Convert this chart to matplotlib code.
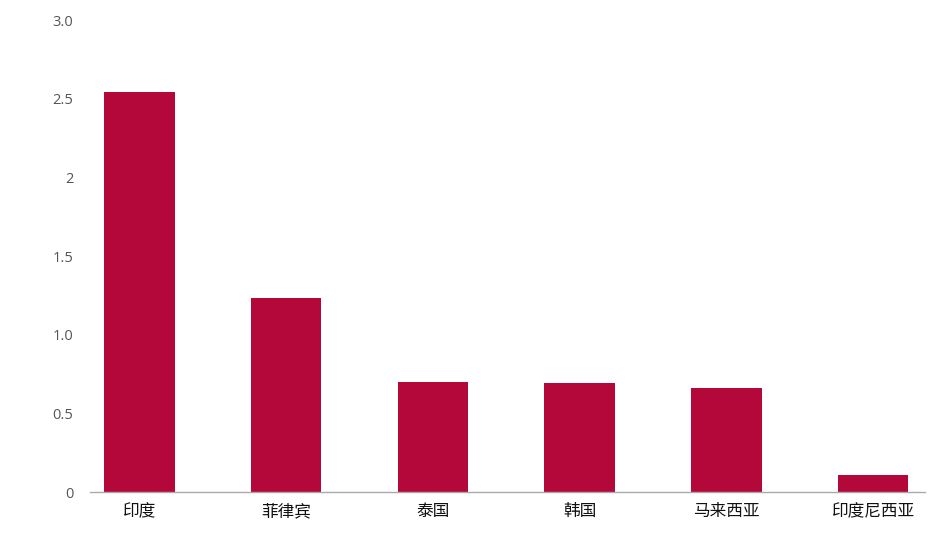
import matplotlib
matplotlib.use("Agg")
import matplotlib.pyplot as plt

countries = ["印度", "菲律宾", "泰国", "韩国", "马来西亚", "印度尼西亚"]
values = [2.54, 1.23, 0.70, 0.69, 0.66, 0.11]
y_ticks = [0, 0.5, 1.0, 1.5, 2.0, 2.5, 3.0]
y_tick_labels = ["0", "0.5", "1.0", "1.5", "2", "2.5", "3.0"]

plt.rcParams['font.family'] = ['Noto Sans CJK SC', 'DejaVu Sans']

fig = plt.figure(figsize=(9.45, 5.35), dpi=100)
ax = fig.add_axes([90 / 945, 43 / 535, 835 / 945, 472 / 535])

x = list(range(len(countries)))
ax.bar(x, values, width=0.48, color="#B5083A")

ax.set_xlim(-0.337, 5.354)
ax.set_ylim(0, 3.0)
ax.set_yticks(y_ticks)
ax.set_yticklabels(y_tick_labels, fontfamily="Open Sans", fontsize=10.5, color="#555555")
ax.set_xticks(x)
ax.set_xticklabels(countries, fontsize=12, color="#111111")

ax.tick_params(axis="y", length=0, pad=12)
ax.tick_params(axis="x", length=0, pad=8)

for side in ["top", "right", "left"]:
    ax.spines[side].set_visible(False)
ax.spines["bottom"].set_color("#aaaaaa")
ax.spines["bottom"].set_linewidth(1)

fig.savefig("out.png", dpi=100)
